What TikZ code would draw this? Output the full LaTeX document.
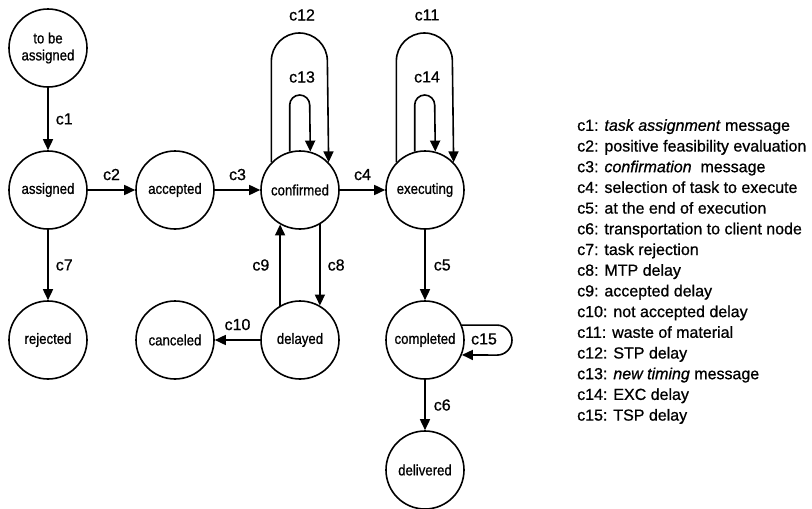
\documentclass[tikz,border=0pt]{standalone}
\usepackage{fontspec}
\setmainfont{Liberation Sans}[FakeBold=0.8]
\newfontfamily\nodefont{Liberation Sans}[FakeStretch=0.88,FakeBold=0.8]
\usetikzlibrary{arrows.meta,calc}
\begin{document}
\begin{tikzpicture}[x=1pt,y=-1pt,
  state/.style={circle,draw,line width=1.6pt,minimum size=78pt,inner sep=0pt,
    font=\nodefont\fontsize{15}{17}\selectfont,align=center},
  arr/.style={line width=1.6pt,-{Triangle[length=11pt,width=10pt]}},
  lab/.style={font=\fontsize{16}{18}\selectfont,inner sep=2pt}]
\useasboundingbox (0,0) rectangle (812,509);

\node[state] (tba)   at (48,48)   {to be\\assigned};
\node[state] (asg)   at (48,190)  {assigned};
\node[state] (rej)   at (48,340)  {rejected};
\node[state] (acc)   at (175,190) {accepted};
\node[state] (conf)  at (300,190) {confirmed};
\node[state] (exec)  at (425,190) {executing};
\node[state] (canc)  at (175,340) {canceled};
\node[state] (dly)   at (300,340) {delayed};
\node[state] (comp)  at (425,340) {completed};
\node[state] (deliv) at (425,470) {delivered};

\draw[arr] (tba) -- node[lab,right=5pt] {c1} (asg);
\draw[arr] (asg) -- node[lab,above=7pt] {c2} (acc);
\draw[arr] (acc) -- node[lab,above=7pt] {c3} (conf);
\draw[arr] (conf) -- node[lab,above=7pt] {c4} (exec);
\draw[arr] (exec) -- node[lab,right=6pt] {c5} (comp);
\draw[arr] (comp) -- node[lab,right=6pt] {c6} (deliv);
\draw[arr] (asg) -- node[lab,right=5pt] {c7} (rej);
\draw[arr] (conf.300) -- node[lab,right=5pt] {c8} (dly.60);
\draw[arr] (dly.120) -- node[lab,left=8pt] {c9} (conf.240);
\draw[arr] (dly) -- node[lab,above=7pt] {c10} (canc);

% loops on confirmed
\coordinate (t12) at (300,61);
\coordinate (t13) at (300,105);
\draw[arr] (conf.136) -- (conf.136 |- t12) arc[start angle=180,end angle=360,radius=28] -- (conf.44);
\draw[arr] (conf.105) -- (conf.105 |- t13) arc[start angle=180,end angle=360,radius=10] -- (conf.75);
\node[lab] (l12) at (302,15) {c12};
\node[lab] (l13) at (302,77) {c13};

% loops on executing
\coordinate (t11) at (425,61);
\coordinate (t14) at (425,105);
\draw[arr] (exec.136) -- (exec.136 |- t11) arc[start angle=180,end angle=360,radius=28] -- (exec.44);
\draw[arr] (exec.105) -- (exec.105 |- t14) arc[start angle=180,end angle=360,radius=10] -- (exec.75);
\node[lab] (l11) at (427,15) {c11};
\node[lab] (l14) at (427,77) {c14};

% loop on completed
\coordinate (t15) at (497,325);
\draw[arr] (comp.22) -- (comp.22 -| t15) arc[start angle=270,end angle=450,radius=15] -- (comp.-22);
\node[lab] (l15) at (484,339) {c15};

\node[anchor=north west,align=left,inner sep=0pt,font=\fontsize{16}{20.7}\selectfont] (legend) at (577,119) {%
c1: \textit{task assignment} message\\
c2: positive feasibility evaluation\\
c3: \textit{confirmation}\ \ message\\
c4: selection of task to execute\\
c5: at the end of execution\\
c6: transportation to client node\\
c7: task rejection\\
c8: MTP delay\\
c9: accepted delay\\
c10: not accepted delay\\
c11: waste of material\\
c12: STP delay\\
c13: \textit{new timing} message\\
c14: EXC delay\\
c15: TSP delay};
\end{tikzpicture}
\end{document}
